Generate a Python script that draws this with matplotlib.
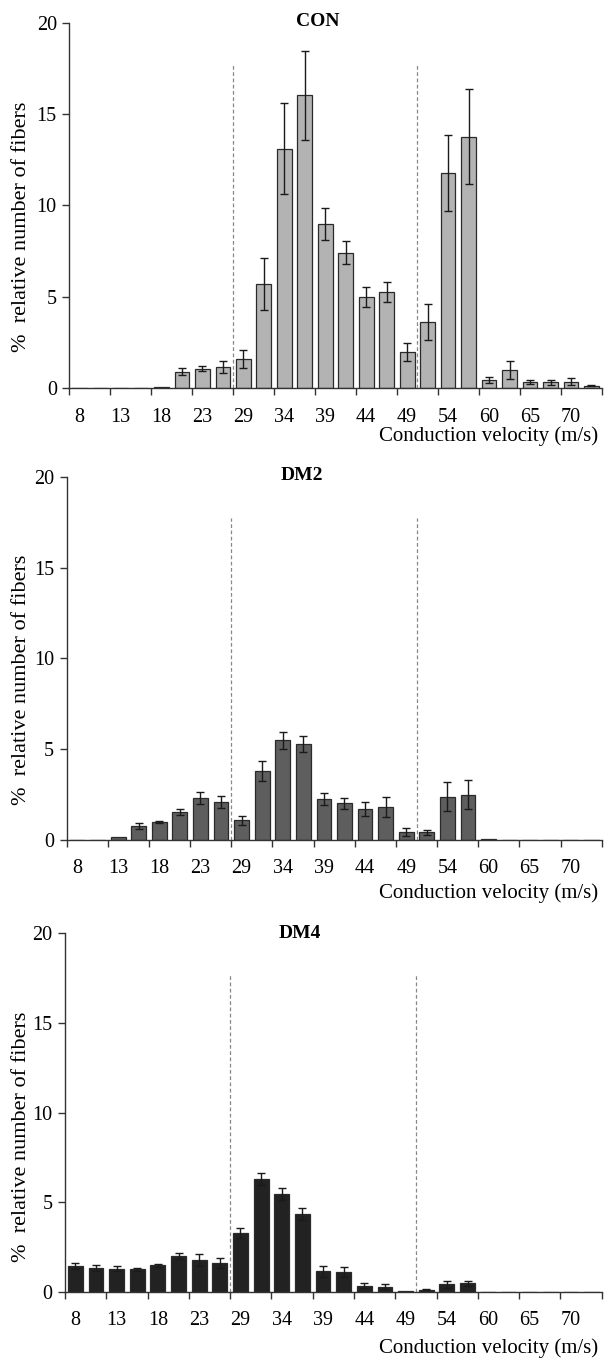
import matplotlib
matplotlib.use("Agg")
import matplotlib.pyplot as plt
import numpy as np

plt.rcParams['font.family'] = ['Liberation Serif', 'DejaVu Serif']

velocity_labels = ["8", "13", "18", "23", "29", "34", "39", "44", "49", "54", "60", "65", "70"]
n_classes = 26

con_values = [0, 0, 0, 0, 0.05, 0.91, 1.08, 1.18, 1.62, 5.7, 13.1, 16.03,
              8.99, 7.42, 4.98, 5.25, 2.0, 3.61, 11.78, 13.76, 0.46, 1.0, 0.33, 0.33, 0.36, 0.15]
con_errors = [0, 0, 0, 0, 0, 0.2, 0.15, 0.32, 0.5, 1.44, 2.48, 2.43,
              0.88, 0.63, 0.54, 0.54, 0.5, 0.98, 2.1, 2.6, 0.18, 0.49, 0.12, 0.15, 0.18, 0.05]

dm2_values = [0, 0, 0.17, 0.77, 0.99, 1.56, 2.31, 2.09, 1.08, 3.8, 5.5, 5.28,
              2.28, 2.02, 1.69, 1.8, 0.46, 0.42, 2.37, 2.5, 0.05, 0.02, 0.02, 0.02, 0, 0.02]
dm2_errors = [0, 0, 0, 0.16, 0.08, 0.17, 0.31, 0.32, 0.26, 0.53, 0.47, 0.45,
              0.33, 0.3, 0.38, 0.54, 0.22, 0.15, 0.8, 0.82, 0, 0, 0, 0, 0, 0]

dm4_values = [1.43, 1.32, 1.28, 1.25, 1.47, 1.99, 1.77, 1.6, 3.27, 6.29, 5.43, 4.35,
              1.13, 1.12, 0.33, 0.28, 0.04, 0.1, 0.41, 0.47, 0, 0, 0, 0, 0, 0]
dm4_errors = [0.18, 0.15, 0.14, 0.09, 0.08, 0.17, 0.32, 0.3, 0.3, 0.35, 0.33, 0.34,
              0.29, 0.28, 0.15, 0.15, 0, 0.03, 0.2, 0.14, 0, 0, 0, 0, 0, 0]

groups = ["CON", "DM2", "DM4"]
boundary_positions = [7.5, 16.5]
boundary_top = 17.7

W, H = 605, 1360
fig = plt.figure(figsize=(W / 100, H / 100), dpi=100)

def fx(px):
    return px / W

def fy(py):
    return 1 - py / H

panels = [
    dict(name="CON", vals=con_values, errs=con_errors, color="#b3b3b3",
         left=69.3, right=601.7, y0=388.3, y20=22.7,
         title=(318, 22), ylab=(22, 227), xlab=(598, 436)),
    dict(name="DM2", vals=dm2_values, errs=dm2_errors, color="#5e5e5e",
         left=66.7, right=601.7, y0=840, y20=476.7,
         title=(302, 476), ylab=(22, 680), xlab=(598, 893)),
    dict(name="DM4", vals=dm4_values, errs=dm4_errors, color="#222222",
         left=65, right=601.7, y0=1291.7, y20=933.3,
         title=(300, 934), ylab=(22, 1137), xlab=(598, 1348)),
]

x = np.arange(n_classes)
for p in panels:
    ax = fig.add_axes([fx(p["left"]), fy(p["y0"]), fx(p["right"] - p["left"]),
                       (p["y0"] - p["y20"]) / H])
    ax.bar(x, p["vals"], width=0.72, color=p["color"], edgecolor="#2a2a2a",
           linewidth=0.9, zorder=2)
    errs = np.array(p["errs"])
    mask = errs > 0
    ax.errorbar(x[mask], np.array(p["vals"])[mask], yerr=errs[mask], fmt="none",
                ecolor="#1a1a1a", elinewidth=1.0, capsize=3, capthick=1.0, zorder=3)
    for b in boundary_positions:
        ax.plot([b, b], [0, boundary_top], linestyle=(0, (3, 2)), color="#888888",
                linewidth=0.9, zorder=1)
    ax.set_xlim(-0.5, n_classes - 0.5)
    ax.set_ylim(0, 20)
    ax.set_yticks([0, 5, 10, 15, 20])
    ax.set_xticks(np.arange(-0.5, n_classes, 2))
    ax.set_xticklabels([])
    ax.set_xticks(np.arange(0, n_classes - 1, 2), minor=True)
    ax.set_xticklabels(velocity_labels, minor=True)
    ax.tick_params(axis="x", which="major", direction="out", length=5, width=1, color="#333333")
    ax.tick_params(axis="x", which="minor", length=0, pad=14, labelsize=14.5)
    ax.tick_params(axis="y", direction="out", length=5, width=1, color="#333333",
                   labelsize=14.5, pad=4)
    for s in ["top", "right"]:
        ax.spines[s].set_visible(False)
    for s in ["left", "bottom"]:
        ax.spines[s].set_color("#333333")
        ax.spines[s].set_linewidth(1.0)
    ax.spines["bottom"].set_zorder(4)

    fig.text(fx(p["title"][0]), fy(p["title"][1]), p["name"], ha="center", va="center",
             fontsize=14, fontweight="bold")
    fig.text(fx(p["ylab"][0]), fy(p["ylab"][1]), "%  relative number of fibers",
             rotation=90, ha="center", va="center", fontsize=16)
    fig.text(fx(p["xlab"][0]), fy(p["xlab"][1]), "Conduction velocity (m/s)",
             ha="right", va="center", fontsize=15)

fig.savefig("out.png", dpi=100)
